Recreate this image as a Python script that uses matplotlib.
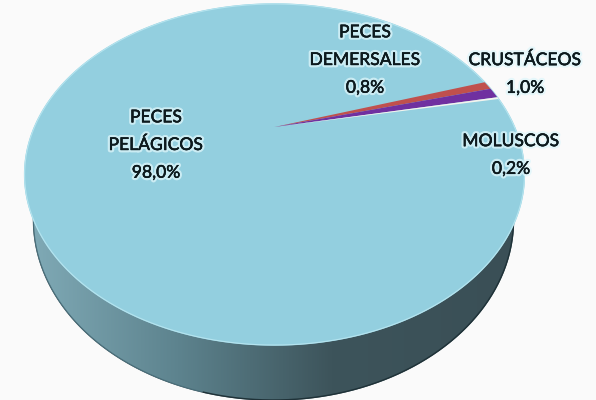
import matplotlib
matplotlib.use('Agg')
import matplotlib.pyplot as plt
import matplotlib.patheffects as pe
from matplotlib.colors import LinearSegmentedColormap
import numpy as np

categories = ['PECES\nDEMERSALES', 'CRUSTÁCEOS', 'MOLUSCOS', 'PECES\nPELÁGICOS']
values = [0.8, 1.0, 0.2, 98.0]
value_labels = ['0,8%', '1,0%', '0,2%', '98,0%']
colors = ['#c0504d', '#7030a0', '#f4f4ee', '#93cfdf']
label_pos = [(365, 60), (525, 74), (511, 155), (156, 145)]

# tilted disc seen in perspective, the centre lands on (cx, cy) in pixels
cx, cy = 274.5, 127
a, b, k = 240, 157.3, -0.2786
start_angle = 18
# lower rim of the pie, smaller than the top face because of the perspective
rim_x, rim_y, rim_w, rim_h = 273.5, 220, 240, 180


def project(theta):
    X = np.cos(theta)
    Y = np.sin(theta)
    w = 1 - k*Y
    return cx + a*X/w, cy - b*Y/w


fig = plt.figure(figsize=(5.96, 4), dpi=100, facecolor='#fafafa')
ax = fig.add_axes([0, 0, 1, 1])

t = np.linspace(0, 2*np.pi, 721)
ex, ey = project(t)
rx = rim_x + rim_w*np.cos(t)
ry = rim_y + rim_h*np.sin(t)

# side wall, shaded left to right
wall_cmap = LinearSegmentedColormap.from_list(
    'wall', [(0, '#7fa9b5'), (0.3, '#5d838e'), (0.62, '#3d545b'), (1, '#3a4f56')])
side = ax.fill(rx, ry, color='#3a4f56', zorder=1)[0]
img = ax.imshow(np.linspace(0, 1, 256).reshape(1, -1), cmap=wall_cmap, aspect='auto',
                extent=[rim_x - rim_w, rim_x + rim_w, 400, 100], zorder=2)
img.set_clip_path(side)
bottom = np.sin(t) > 0
right = bottom & (np.cos(t) > -0.3)
left = bottom & (np.cos(t) <= -0.3)
ax.plot(rx[right], ry[right], color='#1f3238', lw=1.0, zorder=3)
ax.plot(rx[left], ry[left], color='#4a6f7b', lw=0.8, zorder=3)

# top face, the big slice is the whole disc and the thin ones go on top
ax.fill(ex, ey, color=colors[3], zorder=4)
ax.plot(ex, ey, color='#b5e4ef', lw=0.8, zorder=4)
angle = np.deg2rad(start_angle)
for val, col in zip(values[:3], colors[:3]):
    sweep = np.deg2rad(val*3.6)
    th = np.linspace(angle, angle - sweep, 12)
    px, py = project(th)
    ax.fill(np.r_[cx, px], np.r_[cy, py], color=col, lw=0, zorder=5)
    angle -= sweep

glow = [pe.withStroke(linewidth=3.5, foreground='#dff6fb', alpha=0.75),
        pe.withStroke(linewidth=0.3, foreground='#0d1a1e')]
for cat, vl, (lx, ly) in zip(categories, value_labels, label_pos):
    ax.text(lx, ly, cat + '\n' + vl, ha='center', va='center', family='Lato',
            fontsize=12.6, color='#0d1a1e', linespacing=1.9, zorder=6, path_effects=glow)

ax.set_xlim(0, 596)
ax.set_ylim(400, 0)
ax.axis('off')

fig.savefig('out.png', dpi=100, facecolor=fig.get_facecolor())
